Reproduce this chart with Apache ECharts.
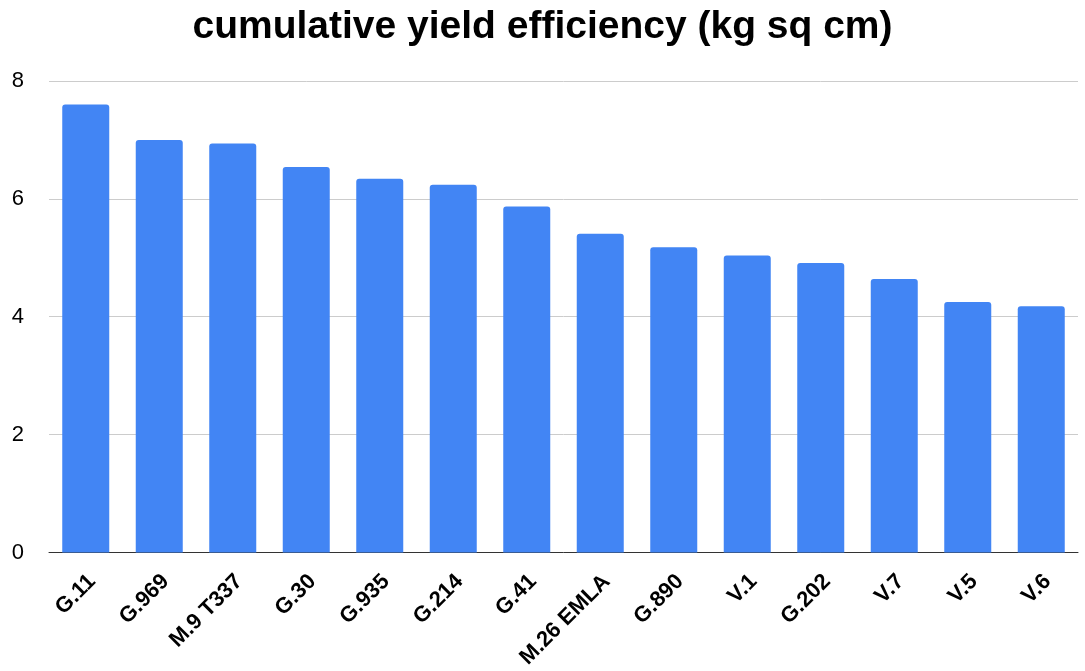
<!DOCTYPE html>
<html><head><meta charset="utf-8">
<script src="https://cdn.jsdelivr.net/npm/echarts@6/dist/echarts.min.js"></script>
<style>html,body{margin:0;padding:0;background:#fff}#c{width:1085px;height:671px}</style>
</head><body><div id="c"></div>
<script>
const categories = ['G.11','G.969','M.9 T337','G.30','G.935','G.214','G.41','M.26 EMLA','G.890','V.1','G.202','V.7','V.5','V.6'];
const values = [7.60, 7.00, 6.94, 6.54, 6.34, 6.24, 5.87, 5.41, 5.18, 5.04, 4.91, 4.64, 4.25, 4.18];
const titleText = 'cumulative yield efficiency (kg sq cm)';

const chart = echarts.init(document.getElementById('c'));
chart.setOption({
  animation: false,
  title: {
    text: titleText, left: 'center', top: 3,
    textStyle: {fontFamily: 'Liberation Sans, Arial', fontWeight: 'bold', fontSize: 39, color: '#000'}
  },
  grid: {left: 49, right: 7, top: 81, bottom: 118},
  xAxis: {
    type: 'category', data: categories,
    axisTick: {show: false},
    axisLine: {lineStyle: {color: '#333', width: 1}},
    axisLabel: {rotate: 45, interval: 0, margin: 32, padding: [0, -9, 0, 0], fontFamily: 'Liberation Sans, Arial', fontWeight: 'bold', fontSize: 22, color: '#000'}
  },
  yAxis: {
    type: 'value', min: 0, max: 8, interval: 2,
    axisLine: {show: false}, axisTick: {show: false},
    splitLine: {lineStyle: {color: '#cccccc', width: 1}},
    axisLabel: {margin: 25, fontFamily: 'Liberation Sans, Arial', fontSize: 22, color: '#000'}
  },
  series: [{
    type: 'bar', data: values, barWidth: 47,
    itemStyle: {color: '#4285f4', borderRadius: [3,3,0,0]}
  }]
});
</script></body></html>
